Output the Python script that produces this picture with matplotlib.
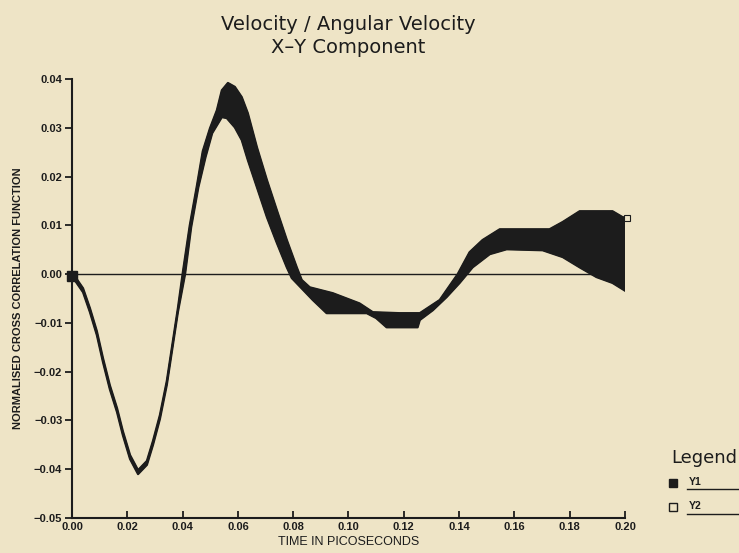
import matplotlib.pyplot as plt
from matplotlib.lines import Line2D
import numpy as np

# === data ===
# Y1: lower edge of the black band
y1_time = [0.000, 0.004, 0.0065, 0.009, 0.0112, 0.0137, 0.0163, 0.0184, 0.021,
           0.0239, 0.0271, 0.0293, 0.0318, 0.0343, 0.0365, 0.0383, 0.0409, 0.0431,
           0.0457, 0.0483, 0.0507, 0.0542, 0.056, 0.0589, 0.0614, 0.0636, 0.0669,
           0.0705, 0.0741, 0.0777, 0.0795, 0.0871, 0.0921, 0.1066, 0.110, 0.1138,
           0.125, 0.1258, 0.1305, 0.1355, 0.1402, 0.1449, 0.1511, 0.1572, 0.1702,
           0.1775, 0.1836, 0.1897, 0.1955, 0.2009]
y1_vals = [-0.0004, -0.0037, -0.0078, -0.0125, -0.0180, -0.0236, -0.0283, -0.0330,
           -0.0379, -0.0410, -0.0391, -0.0350, -0.0297, -0.0227, -0.0145, -0.0078,
           0.0000, 0.0096, 0.0178, 0.0240, 0.0289, 0.0322, 0.0320, 0.0301, 0.0275,
           0.0234, 0.0178, 0.0117, 0.0064, 0.0014, -0.0008, -0.0053, -0.0080,
           -0.0080, -0.0090, -0.0109, -0.0109, -0.0094, -0.0074, -0.0047, -0.0018,
           0.0014, 0.0041, 0.0051, 0.0049, 0.0035, 0.0014, -0.0006, -0.0018, -0.0037]

# Y2: upper edge of the black band
y2_time = [0.000, 0.004, 0.0065, 0.009, 0.0112, 0.0137, 0.0163, 0.0184, 0.021,
           0.0239, 0.0271, 0.0293, 0.0318, 0.0343, 0.0365, 0.0383, 0.0401, 0.0426,
           0.0452, 0.0473, 0.0499, 0.0524, 0.0542, 0.0564, 0.0589, 0.0614, 0.0636,
           0.0669, 0.0705, 0.0741, 0.0777, 0.0813, 0.0831, 0.086, 0.0943, 0.104,
           0.1088, 0.1185, 0.1258, 0.133, 0.1395, 0.1438, 0.1485, 0.1547, 0.1727,
           0.1775, 0.1836, 0.1955, 0.1991, 0.2009]
y2_vals = [0.0004, -0.0029, -0.0070, -0.0117, -0.0172, -0.0228, -0.0275, -0.0322,
           -0.0371, -0.0402, -0.0383, -0.0342, -0.0289, -0.0219, -0.0137, -0.0070,
           0.0004, 0.0100, 0.0182, 0.0252, 0.0299, 0.0336, 0.0377, 0.0392, 0.0384,
           0.0363, 0.0330, 0.0260, 0.0193, 0.0131, 0.0070, 0.0014, -0.0012,
           -0.0027, -0.0039, -0.0060, -0.0078, -0.0080, -0.0080, -0.0053, 0.0000,
           0.0045, 0.0070, 0.0092, 0.0092, 0.0107, 0.0129, 0.0129, 0.0117, 0.0115]

x_ticks = [0.00, 0.02, 0.04, 0.06, 0.08, 0.10, 0.12, 0.14, 0.16, 0.18, 0.20]
y_ticks = [-0.05, -0.04, -0.03, -0.02, -0.01, 0.00, 0.01, 0.02, 0.03, 0.04]

PAPER = '#eee4c6'
INK = '#1c1c1c'

fig = plt.figure(figsize=(7.39, 5.53), dpi=100, facecolor=PAPER)
ax = fig.add_axes([0.0974, 0.0633, 0.7483, 0.7937])
ax.set_facecolor(PAPER)

# band between the two curves
band_t = np.concatenate([y2_time, y1_time[::-1]])
band_v = np.concatenate([y2_vals, y1_vals[::-1]])
ax.fill(band_t, band_v, color=INK, lw=0.8, edgecolor=INK)
ax.plot(y1_time, y1_vals, color=INK, lw=1.6, solid_joinstyle='round')
ax.plot(y2_time, y2_vals, color=INK, lw=1.6, solid_joinstyle='round')

# end markers
ax.plot(y1_time[0], y1_vals[0], marker='s', ms=7, color=INK, clip_on=False)
ax.plot(y2_time[-1], y2_vals[-1], marker='s', ms=5, mfc='none', mec=INK, mew=0.8,
        clip_on=False)

ax.axhline(0, color=INK, lw=1.0, zorder=0)

ax.set_xlim(0, 0.2)
ax.set_ylim(-0.05, 0.04)
ax.set_xticks(x_ticks)
ax.set_yticks(y_ticks)
ax.set_xticklabels([f"{t:.2f}" for t in x_ticks])
ax.set_yticklabels([f"{v:.2f}".replace('-', '\u2212') for v in y_ticks])

for s in ['top', 'right']:
    ax.spines[s].set_visible(False)
for s in ['left', 'bottom']:
    ax.spines[s].set_linewidth(1.5)
    ax.spines[s].set_color(INK)

ax.tick_params(axis='y', direction='out', length=5, width=1.3, colors=INK, pad=2)
ax.tick_params(axis='x', direction='in', length=5, width=1.3, colors=INK, pad=3)
for lab in ax.get_xticklabels() + ax.get_yticklabels():
    lab.set_fontfamily('Liberation Sans')
    lab.set_fontweight('bold')
    lab.set_fontsize(8)

ax.set_xlabel("TIME IN PICOSECONDS", fontsize=9, family='Liberation Sans',
              color=INK, labelpad=3)
ax.set_ylabel("NORMALISED CROSS CORRELATION FUNCTION", fontsize=8,
              family='Liberation Sans', fontweight='bold', color=INK, labelpad=8)

# title
fig.text(0.471, 0.955, "Velocity / Angular Velocity", ha='center', va='center',
         fontsize=14, family='DejaVu Sans', color=INK)
fig.text(0.471, 0.915, "X\u2013Y Component", ha='center', va='center',
         fontsize=14, family='DejaVu Sans', color=INK)

# legend drawn by hand like the original plotter
fig.text(0.908, 0.172, "Legend", ha='left', va='center', fontsize=13,
         family='DejaVu Sans', color=INK)
fig.add_artist(Line2D([0.911], [0.127], marker='s', ms=6, color=INK,
                      transform=fig.transFigure))
fig.add_artist(Line2D([0.911], [0.083], marker='s', ms=6, mfc='none', mec=INK,
                      mew=1.0, transform=fig.transFigure))
fig.text(0.932, 0.129, "Y1", ha='left', va='center', fontsize=7.5,
         family='Liberation Sans', fontweight='bold', color=INK)
fig.text(0.932, 0.085, "Y2", ha='left', va='center', fontsize=7.5,
         family='Liberation Sans', fontweight='bold', color=INK)
fig.add_artist(Line2D([0.930, 1.0], [0.115, 0.115], lw=1.0, color=INK,
                      transform=fig.transFigure))
fig.add_artist(Line2D([0.930, 1.0], [0.071, 0.071], lw=1.0, color=INK,
                      transform=fig.transFigure))

fig.savefig("out.png", dpi=100, facecolor=PAPER)
